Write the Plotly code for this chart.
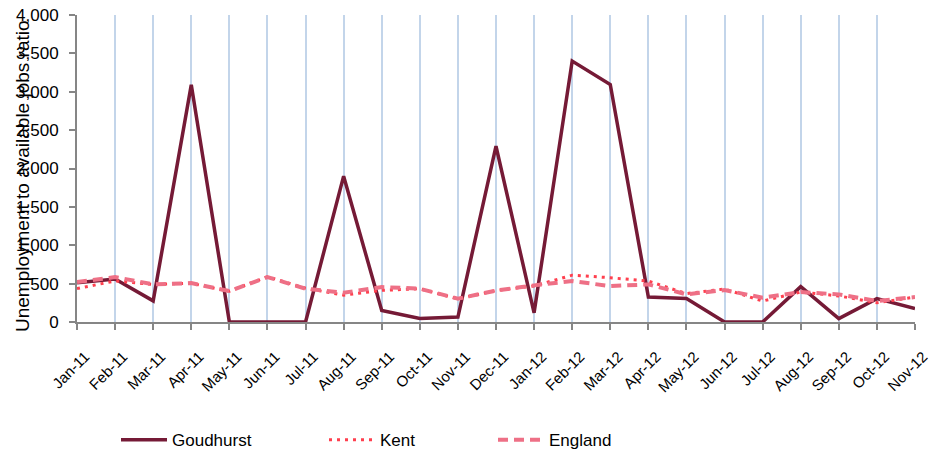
import plotly.graph_objects as go

months = ["Jan-11", "Feb-11", "Mar-11", "Apr-11", "May-11", "Jun-11", "Jul-11", "Aug-11",
          "Sep-11", "Oct-11", "Nov-11", "Dec-11", "Jan-12", "Feb-12", "Mar-12", "Apr-12",
          "May-12", "Jun-12", "Jul-12", "Aug-12", "Sep-12", "Oct-12", "Nov-12"]

goudhurst = [510, 560, 275, 3090, 0, 0, 0, 1900, 150, 45, 65, 2290, 120, 3400, 3095,
             325, 305, 0, 0, 460, 45, 305, 175]
kent = [435, 535, 490, 505, 400, 590, 440, 350, 412, 434, 300, 410, 470, 610, 577,
        533, 370, 430, 273, 390, 340, 250, 325]
england = [520, 585, 490, 507, 403, 585, 434, 382, 455, 434, 304, 410, 477, 533, 468,
           490, 360, 416, 317, 390, 360, 273, 325]

y_ticks = [0, 500, 1000, 1500, 2000, 2500, 3000, 3500, 4000]

FONT = "Liberation Sans, Arial, sans-serif"

fig = go.Figure()
fig.add_trace(go.Scatter(x=months, y=goudhurst, name="Goudhurst", mode="lines",
                         line=dict(color="#751A36", width=3.5), legend="legend"))
fig.add_trace(go.Scatter(x=months, y=kent, name="Kent", mode="lines",
                         line=dict(color="#FF3F4E", width=3, dash="3px,5px"), legend="legend2"))
fig.add_trace(go.Scatter(x=months, y=england, name="England", mode="lines",
                         line=dict(color="#EE7086", width=4, dash="10px,6px"), legend="legend3"))

legend_common = dict(orientation="h", yanchor="middle", xanchor="left", y=-0.385,
                     font=dict(family=FONT, size=17, color="#000000"),
                     bgcolor="rgba(0,0,0,0)", itemwidth=46)

fig.update_layout(
    width=934, height=452,
    margin=dict(l=77, r=19, t=15, b=130, autoexpand=False),
    paper_bgcolor="white", plot_bgcolor="white",
    font=dict(family=FONT, color="#000000"),
    showlegend=True,
    legend=dict(x=(116 - 77) / 838, **legend_common),
    legend2=dict(x=(324 - 77) / 838, **legend_common),
    legend3=dict(x=(493 - 77) / 838, **legend_common),
    xaxis=dict(
        type="category", range=[0, len(months) - 1], automargin=False,
        tickmode="array", tickvals=months, ticktext=months,
        tickangle=-45, tickfont=dict(family=FONT, size=15),
        ticklabelstandoff=12, ticklabelshift=8,
        showgrid=True, gridcolor="#C3D5EA", gridwidth=1.5,
        showline=True, linecolor="#868686", linewidth=2,
        ticks="outside", ticklen=6, tickcolor="#868686", tickwidth=2,
        zeroline=False,
    ),
    yaxis=dict(
        range=[0, 4000], tickvals=y_ticks, tickformat=",", automargin=False,
        tickfont=dict(family=FONT, size=17), ticklabelstandoff=7,
        showgrid=False, showline=True, linecolor="#868686", linewidth=2,
        ticks="outside", ticklen=6, tickcolor="#868686", tickwidth=2,
        zeroline=False,
    ),
    annotations=[dict(
        text="Unemployment to available jobs ratio", textangle=-90,
        xref="paper", yref="paper", x=(22 - 77) / 838, y=(322 - 176) / 307,
        xanchor="center", yanchor="middle", showarrow=False,
        font=dict(family=FONT, size=19, color="#000000"),
    )],
)

fig.write_html("out.html", config={"displayModeBar": False},
               post_script="document.body.style.margin='0';document.body.style.overflow='hidden';")
